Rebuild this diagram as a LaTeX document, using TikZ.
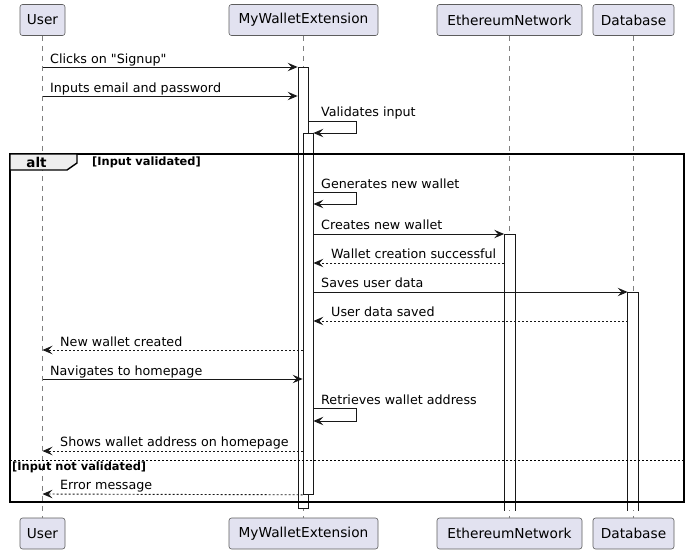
\documentclass[tikz,border=0pt]{standalone}
\usepackage{fontspec}
\setmainfont{DejaVu Sans}[Ligatures=TeXOff]
\usetikzlibrary{positioning}
\usetikzlibrary {arrows.meta}

\definecolor{partbg}{HTML}{E2E2F0}
\definecolor{umlline}{HTML}{181818}
\definecolor{tabbg}{HTML}{EEEEEE}

\tikzset{
    participant/.style={draw=umlline!70, fill=partbg, rounded corners=2.5pt, line width=0.6pt,
        minimum height=31pt, inner sep=0pt, font=\fontsize{13.7}{16}\selectfont},
    lifeline/.style={draw=umlline!55, line width=0.6pt, dash pattern=on 5pt off 5pt},
    actbar/.style={draw=umlline, fill=white, line width=0.8pt, minimum width=10pt,
        inner sep=0pt, anchor=north},
    msg/.style={draw=umlline, line width=0.9pt, -{Stealth[length=10pt,width=8.5pt,inset=4pt]}},
    reply/.style={msg, dash pattern=on 2pt off 2pt},
    msgtext/.style={anchor=base west, inner sep=0pt, font=\fontsize{12.7}{15}\selectfont},
    guard/.style={anchor=base west, inner sep=0pt, font=\bfseries\fontsize{11.4}{13}\selectfont},
    frame/.style={draw=black, line width=1.4pt},
}

\begin{document}
\begin{tikzpicture}[x=1pt, y=-1pt]
    \useasboundingbox (0,0) rectangle (690,554);
    %% participants, top and bottom, with their lifelines
    \foreach \nm/\px/\bw/\txt in {user/42.5/45pt/User, wallet/303.5/149pt/MyWalletExtension,
        eth/509.5/145pt/EthereumNetwork, db/633.5/81pt/Database}{
        \node[participant, minimum width=\bw] (\nm-top) at (\px,20) {\txt};
        \node[participant, minimum width=\bw] (\nm-bot) at (\px,533.5) {\txt};
        \draw[lifeline] (\nm-top) -- (\nm-bot);
    }
    %% activation bars
    \node[actbar, minimum height=441pt] (act1) at (303,67) {};
    \node[actbar, minimum height=361pt] (act2) at (308,133) {};
    \node[actbar, draw=none, minimum height=276pt] (ethact) at (509.5,234) {};
    \node[actbar, draw=none, minimum height=218pt] (dbact) at (633,292) {};
    \draw[umlline, line width=0.8pt] (ethact.south west) -- (ethact.north west) -- (ethact.north east) -- (ethact.south east);
    \draw[umlline, line width=0.8pt] (dbact.south west) -- (dbact.north west) -- (dbact.north east) -- (dbact.south east);
    % 注册请求
    \draw[msg] (user-top |- 0,67) -- (act1.north west);
    \node[msgtext] (t1) at (50,63) {Clicks on "Signup"};
    \draw[msg] (user-top |- 0,96) -- (act1.west |- 0,96);
    \node[msgtext] (t2) at (50,92) {Inputs email and password};
    \draw[msg] (act1.east |- 0,121) -- (356,121) -- (356,133) -- (act2.north east);
    \node[msgtext] (t3) at (321,116) {Validates input};
    %% alt frame
    \draw[frame] (10,154) rectangle (684,502);
    \draw[frame, fill=tabbg] (10,154) -- (77,154) -- (77,163) -- (67,170) -- (10,170) -- cycle;
    \node[anchor=base, inner sep=0pt, font=\bfseries\fontsize{13.5}{15}\selectfont] (alt) at (36.5,167) {alt};
    \node[guard] (g1) at (92,165) {[Input validated]};
    % 创建钱包
    \draw[msg] (act2.east |- 0,192) -- (356,192) -- (356,204) -- (act2.east |- 0,204);
    \node[msgtext] (t4) at (321,188) {Generates new wallet};
    \draw[msg] (act2.east |- 0,234) -- (ethact.north west);
    \node[msgtext] (t5) at (321,229) {Creates new wallet};
    \draw[reply] (ethact.west |- 0,263) -- (act2.east |- 0,263);
    \node[msgtext] (t6) at (331,258) {Wallet creation successful};
    \draw[msg] (act2.east |- 0,292) -- (dbact.north west);
    \node[msgtext] (t7) at (321,287) {Saves user data};
    \draw[reply] (dbact.west |- 0,321) -- (act2.east |- 0,321);
    \node[msgtext] (t8) at (331,316) {User data saved};
    \draw[reply] (act2.west |- 0,350) -- (user-top |- 0,350);
    \node[msgtext] (t9) at (60,346) {New wallet created};
    \draw[msg] (user-top |- 0,379) -- (act2.west |- 0,379);
    \node[msgtext] (t10) at (50,375) {Navigates to homepage};
    \draw[msg] (act2.east |- 0,408) -- (356,408) -- (356,421) -- (act2.east |- 0,421);
    \node[msgtext] (t11) at (321,404) {Retrieves wallet address};
    \draw[reply] (act2.west |- 0,451) -- (user-top |- 0,451);
    \node[msgtext] (t12) at (60,446) {Shows wallet address on homepage};
    %% else branch
    \draw[black, line width=0.8pt, dash pattern=on 2pt off 2pt] (10,460) -- (684,460);
    \node[guard] (g2) at (12,470) {[Input not validated]};
    \draw[reply] (act2.south west) -- (user-top |- 0,494);
    \node[msgtext] (t13) at (60,489) {Error message};
\end{tikzpicture}
\end{document}
